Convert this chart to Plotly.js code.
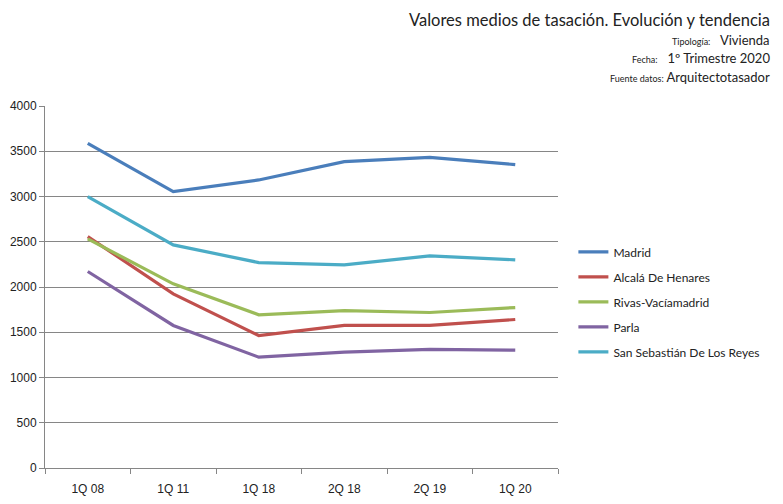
<!DOCTYPE html>
<html>
<head>
<meta charset="utf-8">
<script src="https://cdn.plot.ly/plotly-3.0.1.min.js"></script>
<style>html,body{margin:0;padding:0;background:#fff;}#chart{width:783px;height:504px;}</style>
</head>
<body>
<div id="chart"></div>
<script>
const categories = ["1Q 08", "1Q 11", "1Q 18", "2Q 18", "2Q 19", "1Q 20"];
const seriesNames = ["Madrid", "Alcalá De Henares", "Rivas-Vacíamadrid", "Parla", "San Sebastián De Los Reyes"];
const madrid = [3588, 3054, 3183, 3385, 3433, 3352];
const alcala = [2557, 1924, 1464, 1575, 1575, 1641];
const rivas = [2532, 2035, 1693, 1740, 1718, 1773];
const parla = [2171, 1575, 1225, 1281, 1310, 1303];
const sanse = [2999, 2465, 2270, 2245, 2344, 2300];
const colors = ["#4A7EBB", "#C0504D", "#9BBB59", "#8064A2", "#4BACC6"];
const seriesValues = [madrid, alcala, rivas, parla, sanse];

const traces = seriesValues.map((vals, i) => ({
  type: "scatter",
  mode: "lines",
  x: categories,
  y: vals,
  name: seriesNames[i],
  legendgroup: "g" + i,
  line: {color: colors[i], width: 3.2}
}));

const small = 'font-size:9px';
const layout = {
  width: 783, height: 504,
  margin: {l: 45, r: 225, t: 106, b: 36},
  paper_bgcolor: "#fff", plot_bgcolor: "#fff",
  font: {family: "Liberation Sans, Arial, sans-serif", size: 12, color: "#222"},
  showlegend: true,
  legend: {
    x: 1.03, y: 0.637, xanchor: "left", yanchor: "top",
    font: {family: "Lato, Liberation Sans, sans-serif", size: 12, color: "#222"},
    itemwidth: 30, tracegroupgap: 6,
    bgcolor: "rgba(0,0,0,0)"
  },
  xaxis: {
    type: "category",
    showgrid: false,
    showline: true, linecolor: "#868686", linewidth: 1,
    ticks: "outside", tickson: "boundaries", ticklen: 5, tickcolor: "#868686",
    ticklabelstandoff: 10,
    tickfont: {size: 12, color: "#222"},
    range: [-0.5, 5.5]
  },
  yaxis: {
    range: [0, 4000], dtick: 500,
    showgrid: true, gridcolor: "#868686", gridwidth: 1,
    showline: true, linecolor: "#868686", linewidth: 1,
    ticks: "outside", ticklen: 5, tickcolor: "#868686",
    tickfont: {size: 12, color: "#222"},
    zeroline: false
  },
  annotations: [
    {xref: "paper", yref: "paper", x: 1.418, y: 1.238, xanchor: "right", yanchor: "middle", showarrow: false,
     text: "Valores medios de tasación. Evolución y tendencia", font: {family: "Lato, sans-serif", size: 16.5, color: "#222"}},
    {xref: "paper", yref: "paper", x: 1.418, y: 1.181, xanchor: "right", yanchor: "middle", showarrow: false,
     text: '<span style="' + small + '">Tipología:</span>   Vivienda', font: {family: "Lato, sans-serif", size: 13, color: "#222"}},
    {xref: "paper", yref: "paper", x: 1.418, y: 1.133, xanchor: "right", yanchor: "middle", showarrow: false,
     text: '<span style="' + small + '">Fecha:</span>   1º Trimestre 2020', font: {family: "Lato, sans-serif", size: 13, color: "#222"}},
    {xref: "paper", yref: "paper", x: 1.418, y: 1.081, xanchor: "right", yanchor: "middle", showarrow: false,
     text: '<span style="' + small + '">Fuente datos:</span> Arquitectotasador', font: {family: "Lato, sans-serif", size: 13, color: "#222"}}
  ]
};

Plotly.newPlot("chart", traces, layout, {staticPlot: true, displayModeBar: false});
</script>
</body>
</html>
